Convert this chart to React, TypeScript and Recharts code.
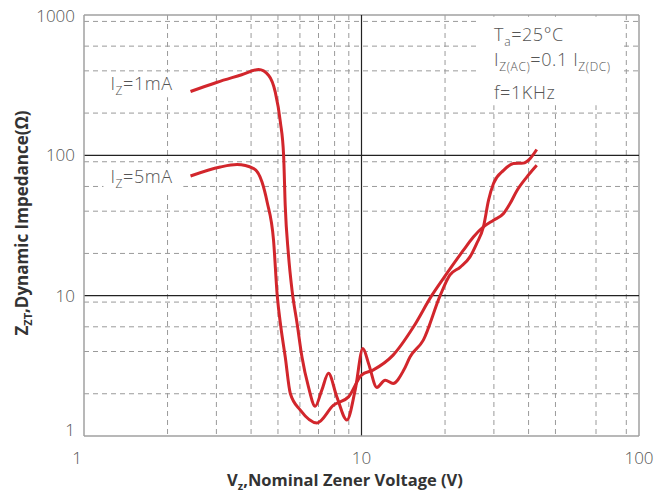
import { CartesianGrid, Line, LineChart, ReferenceArea, ReferenceLine, XAxis, YAxis } from "recharts";

// Iz = 1mA curve
const vz1mA = [2.42, 3.02, 3.7, 4.26, 4.63, 4.89, 5.1, 5.24, 5.31, 5.45, 5.62, 5.86, 6.1, 6.44, 6.81, 7.2, 7.6, 8.15, 8.86, 9.49, 10.12, 10.6, 11.36, 12.17, 13.0, 14.2, 14.97, 16.7, 19.2, 20.8, 22.7, 24.6, 26.0, 27.5, 28.7, 29.9, 32.5, 35.3, 38.3, 40.5, 42.8];
const zzt1mA = [285, 332, 375, 409, 371, 282, 173, 100, 44, 20, 10.9, 6.34, 3.67, 2.24, 1.63, 2.13, 2.8, 1.9, 1.3, 2.13, 4.21, 3.29, 2.22, 2.5, 2.37, 2.95, 3.67, 4.82, 10, 14, 16, 18.9, 23.5, 30.9, 47.9, 62.9, 78.2, 87.3, 88, 94.8, 110];

// Iz = 5mA curve
const vz5mA = [2.42, 3.1, 3.56, 4.09, 4.38, 4.57, 4.82, 4.97, 5.12, 5.31, 5.54, 6.02, 6.91, 7.93, 8.98, 10.0, 11.0, 13.0, 15.4, 17.9, 20.3, 23.3, 25.3, 27.5, 29.9, 32.5, 34.3, 36.3, 39.4, 42.8];
const zzt5mA = [71.2, 82.6, 85.9, 80.4, 64.5, 46.5, 24.8, 10, 6, 3.67, 2.01, 1.53, 1.24, 1.66, 1.9, 2.72, 2.95, 3.77, 6.0, 10, 14.4, 21.1, 26.2, 30.9, 34.5, 38.5, 45.3, 56, 70, 85];

const xTicks = [1, 10, 100];
const yTicks = [1, 10, 100, 1000];
const xMinor = [2, 3, 4, 5, 6, 7, 8, 9, 20, 30, 40, 50, 60, 70, 80, 90];
const yMinor = [2, 3, 4, 5, 6, 7, 8, 9, 20, 30, 40, 50, 60, 70, 80, 90, 200, 300, 400, 500, 600, 700, 800, 900];

const data1mA = vz1mA.map((v, i) => ({ vz: v, zzt: zzt1mA[i] }));
const data5mA = vz5mA.map((v, i) => ({ vz: v, zzt: zzt5mA[i] }));

const RED = "#d2262c";
const TEXT = "#555555";
const FONT = "'Open Sans', sans-serif";

function XTick({ x, y, payload }: any) {
  const dx = payload.value === 1 ? -7 : 0;
  return (
    <text x={x + dx} y={y + 20} textAnchor="middle" fontSize={17} fontWeight={300} fill={TEXT} fontFamily={FONT}>
      {payload.value}
    </text>
  );
}

function YTick({ x, y, payload }: any) {
  const dy = payload.value === 1 ? -6 : payload.value === 1000 ? 1 : 0;
  return (
    <text x={x - 1} y={y + dy + 6} textAnchor="end" fontSize={17} fontWeight={300} fill={TEXT} fontFamily={FONT}>
      {payload.value}
    </text>
  );
}

interface NoteLine {
  dx: number;
  dy: number;
  main: string;
  sub?: string;
  rest?: string;
  sub2?: string;
}

// label drawn inside a white ReferenceArea, positioned from its top-left corner
function AreaNote({ viewBox, lines }: { viewBox?: any; lines: NoteLine[] }) {
  const x0 = viewBox?.x ?? 0;
  const y0 = viewBox?.y ?? 0;
  return (
    <g>
      {lines.map((l, i) => (
        <text
          key={i}
          x={x0 + l.dx}
          y={y0 + l.dy}
          fontSize={18}
          fontWeight={300}
          letterSpacing={0.6}
          fill={TEXT}
          fontFamily={FONT}
        >
          {l.main}
          {l.sub && (
            <tspan fontSize={12} dy={5}>
              {l.sub}
            </tspan>
          )}
          {l.rest && <tspan dy={l.sub ? -5 : 0}>{l.rest}</tspan>}
          {l.sub2 && (
            <tspan fontSize={12} dy={5}>
              {l.sub2}
            </tspan>
          )}
        </text>
      ))}
    </g>
  );
}

export default function App() {
  return (
    <div style={{ position: "absolute", left: 0, top: 0, background: "#fff" }}>
      <LineChart width={668} height={494} margin={{ top: 15, right: 29, left: 0, bottom: 0 }}>
        <CartesianGrid
          stroke="#9a9a9a"
          strokeDasharray="5 4"
          verticalValues={xMinor}
          horizontalValues={yMinor}
        />
        <XAxis
          dataKey="vz"
          type="number"
          scale="log"
          domain={[1, 100]}
          ticks={xTicks}
          allowDataOverflow
          height={58}
          tickLine={false}
          axisLine={{ stroke: "#a0a0a0", strokeWidth: 1.5 }}
          tick={<XTick />}
        />
        <YAxis
          type="number"
          scale="log"
          domain={[1, 1000]}
          ticks={yTicks}
          allowDataOverflow
          width={84}
          tickLine={false}
          axisLine={{ stroke: "#a0a0a0", strokeWidth: 1.5 }}
          tick={<YTick />}
        />
        <ReferenceArea
          x1={26.1}
          x2={87.5}
          y1={227}
          y2={970}
          fill="#fff"
          fillOpacity={1}
          stroke="none"
          label={
            <AreaNote
              lines={[
                { dx: 17, dy: 24, main: "T", sub: "a", rest: "=25°C" },
                { dx: 17, dy: 49, main: "I", sub: "Z(AC)", rest: "=0.1 I", sub2: "Z(DC)" },
                { dx: 17, dy: 82, main: "f=1KHz" },
              ]}
            />
          }
        />
        <ReferenceArea
          x1={1.175}
          x2={2.28}
          y1={259}
          y2={390}
          fill="#fff"
          fillOpacity={1}
          stroke="none"
          label={<AreaNote lines={[{ dx: 7, dy: 18, main: "I", sub: "Z", rest: "=1mA" }]} />}
        />
        <ReferenceArea
          x1={1.175}
          x2={2.28}
          y1={52.6}
          y2={86}
          fill="#fff"
          fillOpacity={1}
          stroke="none"
          label={<AreaNote lines={[{ dx: 7, dy: 18, main: "I", sub: "Z", rest: "=5mA" }]} />}
        />
        <ReferenceLine y={1000} stroke="#a0a0a0" strokeWidth={1.5} />
        <ReferenceLine x={100} stroke="#a0a0a0" strokeWidth={1.5} />
        <ReferenceLine y={10} stroke="#222" strokeWidth={1.2} />
        <ReferenceLine y={100} stroke="#222" strokeWidth={1.2} />
        <ReferenceLine x={10} stroke="#222" strokeWidth={1.2} />
        <Line data={data1mA} dataKey="zzt" type="monotone" stroke={RED} strokeWidth={3} dot={false} isAnimationActive={false} />
        <Line data={data5mA} dataKey="zzt" type="monotone" stroke={RED} strokeWidth={3} dot={false} isAnimationActive={false} />
        <text x={345} y={486} textAnchor="middle" fontSize={16.5} fontWeight={700} fill="#333" fontFamily={FONT}>
          V<tspan fontSize={11} dy={4}>z</tspan>
          <tspan dy={-4}>,Nominal Zener Voltage (V)</tspan>
        </text>
        <text
          x={28}
          y={223}
          transform="rotate(-90 28 223)"
          textAnchor="middle"
          fontSize={17}
          fontWeight={700}
          fill="#333"
          fontFamily={FONT}
        >
          Z<tspan fontSize={11} dy={4}>ZT</tspan>
          <tspan dy={-4}>,Dynamic Impedance(Ω)</tspan>
        </text>
      </LineChart>
    </div>
  );
}
